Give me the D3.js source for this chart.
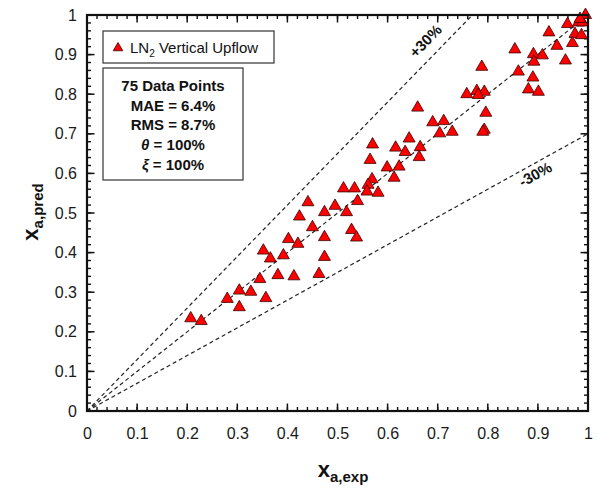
<!DOCTYPE html>
<html>
<head>
<meta charset="utf-8">
<script src="https://cdn.jsdelivr.net/npm/d3@7"></script>
<style>
  body { margin: 0; background: #fff; }
  svg { display: block; font-family: "Liberation Sans", Arial, Helvetica, sans-serif; }
</style>
</head>
<body>
<svg id="chart" width="597" height="489"></svg>
<script>
// Measured vs. predicted flow quality, LN2 vertical upflow
const xExp = [
  0.207, 0.228, 0.280, 0.304, 0.327, 0.304, 0.357, 0.345, 0.381, 0.413,
  0.352, 0.366, 0.392, 0.402, 0.421, 0.441, 0.474, 0.495, 0.424, 0.450,
  0.474, 0.474, 0.463, 0.518, 0.528, 0.538, 0.512, 0.534, 0.540, 0.565,
  0.570, 0.616, 0.635, 0.665, 0.663, 0.599, 0.623, 0.613, 0.569, 0.561,
  0.559, 0.581, 0.643, 0.660, 0.690, 0.712, 0.704, 0.729, 0.758, 0.778,
  0.793, 0.781, 0.788, 0.796, 0.793, 0.790, 0.861, 0.881, 0.901, 0.890,
  0.854, 0.891, 0.909, 0.892, 0.922, 0.938, 0.955, 0.959, 0.981, 0.989,
  0.974, 0.987, 0.969, 0.995, 0.984
];
const xPred = [
  0.234, 0.227, 0.283, 0.304, 0.301, 0.262, 0.285, 0.333, 0.343, 0.340,
  0.405, 0.385, 0.393, 0.434, 0.422, 0.527, 0.502, 0.518, 0.491, 0.464,
  0.439, 0.389, 0.346, 0.502, 0.457, 0.438, 0.562, 0.562, 0.530, 0.634,
  0.673, 0.665, 0.654, 0.666, 0.641, 0.615, 0.617, 0.589, 0.585, 0.571,
  0.554, 0.551, 0.688, 0.766, 0.729, 0.732, 0.701, 0.705, 0.800, 0.808,
  0.806, 0.798, 0.869, 0.753, 0.710, 0.705, 0.857, 0.812, 0.806, 0.842,
  0.913, 0.901, 0.898, 0.882, 0.956, 0.922, 0.885, 0.977, 0.981, 0.981,
  0.952, 0.949, 0.929, 1.000, 0.990
];
const majorTicks = [0, 0.1, 0.2, 0.3, 0.4, 0.5, 0.6, 0.7, 0.8, 0.9, 1];
const tickLabels = ["0", "0.1", "0.2", "0.3", "0.4", "0.5", "0.6", "0.7", "0.8", "0.9", "1"];
const minorTicks = d3.range(0, 51).map(i => i / 50);
const boundFactors = [1.3, 1.0, 0.7];
const boundLabels = ["+30%", "-30%"];
const legendLabel = ["LN", "2", " Vertical Upflow"];
const statLines = [
  { sym: "", text: "75 Data Points" },
  { sym: "", text: "MAE = 6.4%" },
  { sym: "", text: "RMS = 8.7%" },
  { sym: "θ", text: " = 100%" },
  { sym: "ξ", text: " = 100%" }
];

const W = 597, H = 489;
const m = { left: 87, right: 9, top: 15, bottom: 78 };
const svg = d3.select("#chart");
const iw = W - m.left - m.right, ih = H - m.top - m.bottom;

const x = d3.scaleLinear().domain([0, 1]).range([m.left, m.left + iw]);
const y = d3.scaleLinear().domain([0, 1]).range([m.top + ih, m.top]);

const ink = "#111";
const x0 = x(0), x1 = x(1), y0 = y(0), y1 = y(1);

// Inward tick marks on all four sides, drawn as thin rectangles
function tickRects(values, len, w) {
  const g = svg.append("g").attr("fill", ink);
  values.forEach(v => {
    const px = x(v), py = y(v);
    g.append("rect").attr("x", px - w / 2).attr("y", y0 - len).attr("width", w).attr("height", len);
    g.append("rect").attr("x", px - w / 2).attr("y", y1).attr("width", w).attr("height", len);
    g.append("rect").attr("x", x0).attr("y", py - w / 2).attr("width", len).attr("height", w);
    g.append("rect").attr("x", x1 - len).attr("y", py - w / 2).attr("width", len).attr("height", w);
  });
}
tickRects(minorTicks, 4, 1.4);
tickRects(majorTicks, 7.5, 1.5);

// Tick labels through the axis generators
function labelAxis(axisFn, transform) {
  const g = svg.append("g").attr("transform", transform)
    .call(axisFn.tickValues(majorTicks).tickSize(0).tickPadding(0)
      .tickFormat((d, i) => tickLabels[i]));
  g.select(".domain").remove();
  g.selectAll(".tick line").remove();
  g.selectAll(".tick text").attr("fill", "#1a1a1a").attr("font-size", 16)
    .attr("font-family", "Liberation Sans, Arial, sans-serif");
  return g;
}
labelAxis(d3.axisBottom(x), `translate(0,${y0})`)
  .selectAll(".tick text").attr("y", 17).attr("dy", "0.71em");
labelAxis(d3.axisLeft(y), `translate(${x0},0)`)
  .selectAll(".tick text").attr("x", -10);

// ±30% band and perfect-agreement line
const lineG = svg.append("g");
boundFactors.forEach(f => {
  const xe = Math.min(1, 1 / f), ye = Math.min(1, f);
  lineG.append("line")
    .attr("x1", x(0)).attr("y1", y(0))
    .attr("x2", x(xe)).attr("y2", y(ye))
    .attr("stroke", "#222").attr("stroke-width", 1.2)
    .attr("stroke-dasharray", "4,3");
});

// Band labels, rotated along their lines
function lineAngle(f) {
  return -Math.atan2(y(0) - y(f), x(1) - x(0)) * 180 / Math.PI;
}
svg.append("text")
  .attr("transform", `translate(${x(0.683)},${y(0.925)}) rotate(${lineAngle(1.3)})`)
  .attr("text-anchor", "middle").attr("font-size", 15).attr("font-weight", "bold")
  .attr("fill", "#111").text(boundLabels[0]);
svg.append("text")
  .attr("transform", `translate(${x(0.9)},${y(0.586)}) rotate(${lineAngle(0.7)})`)
  .attr("text-anchor", "middle").attr("font-size", 15).attr("font-weight", "bold")
  .attr("fill", "#111").text(boundLabels[1]);

// Data points
const tri = d3.symbol().type(d3.symbolTriangle).size(62);
svg.append("g").selectAll("path")
  .data(xExp.map((v, i) => [v, xPred[i]]))
  .join("path")
  .attr("d", tri)
  .attr("transform", d => `translate(${x(d[0])},${y(d[1])})`)
  .attr("fill", "#f00").attr("stroke", "#3a0000").attr("stroke-width", 0.8);

// Frame
svg.append("rect")
  .attr("x", x0).attr("y", y1).attr("width", x1 - x0).attr("height", y0 - y1)
  .attr("fill", "none").attr("stroke", ink).attr("stroke-width", 2.2);

// Legend box
svg.append("rect").attr("x", 103).attr("y", 31).attr("width", 171).attr("height", 32)
  .attr("fill", "#fff").attr("stroke", "#333").attr("stroke-width", 1.2);
svg.append("path").attr("d", d3.symbol().type(d3.symbolTriangle).size(40))
  .attr("transform", "translate(118,48)")
  .attr("fill", "#f00").attr("stroke", "#3a0000").attr("stroke-width", 0.8);
const lt = svg.append("text").attr("x", 130).attr("y", 53).attr("font-size", 15).attr("fill", "#111");
lt.append("tspan").text(legendLabel[0]);
lt.append("tspan").attr("font-size", 10).attr("dy", 4).text(legendLabel[1]);
lt.append("tspan").attr("dy", -4).text(legendLabel[2]);

// Statistics box
svg.append("rect").attr("x", 103).attr("y", 68).attr("width", 140).attr("height", 112)
  .attr("fill", "#fff").attr("stroke", "#333").attr("stroke-width", 1.2);
statLines.forEach((s, i) => {
  const t = svg.append("text").attr("x", 173).attr("y", 91 + i * 19.7)
    .attr("text-anchor", "middle").attr("font-size", 15).attr("font-weight", "bold")
    .attr("fill", "#111");
  if (s.sym) t.append("tspan").attr("font-style", "italic").text(s.sym);
  t.append("tspan").text(s.text);
});

// Axis titles
const xt = svg.append("text").attr("x", 343).attr("y", 477)
  .attr("text-anchor", "middle").attr("font-weight", "bold").attr("fill", "#111");
xt.append("tspan").attr("font-size", 22).text("x");
xt.append("tspan").attr("font-size", 15).attr("dy", 5).text("a,exp");

const yt = svg.append("text")
  .attr("transform", "translate(38,212) rotate(-90)")
  .attr("text-anchor", "middle").attr("font-weight", "bold").attr("fill", "#111");
yt.append("tspan").attr("font-size", 22).text("x");
yt.append("tspan").attr("font-size", 15).attr("dy", 5).text("a,pred");
</script>
</body>
</html>
